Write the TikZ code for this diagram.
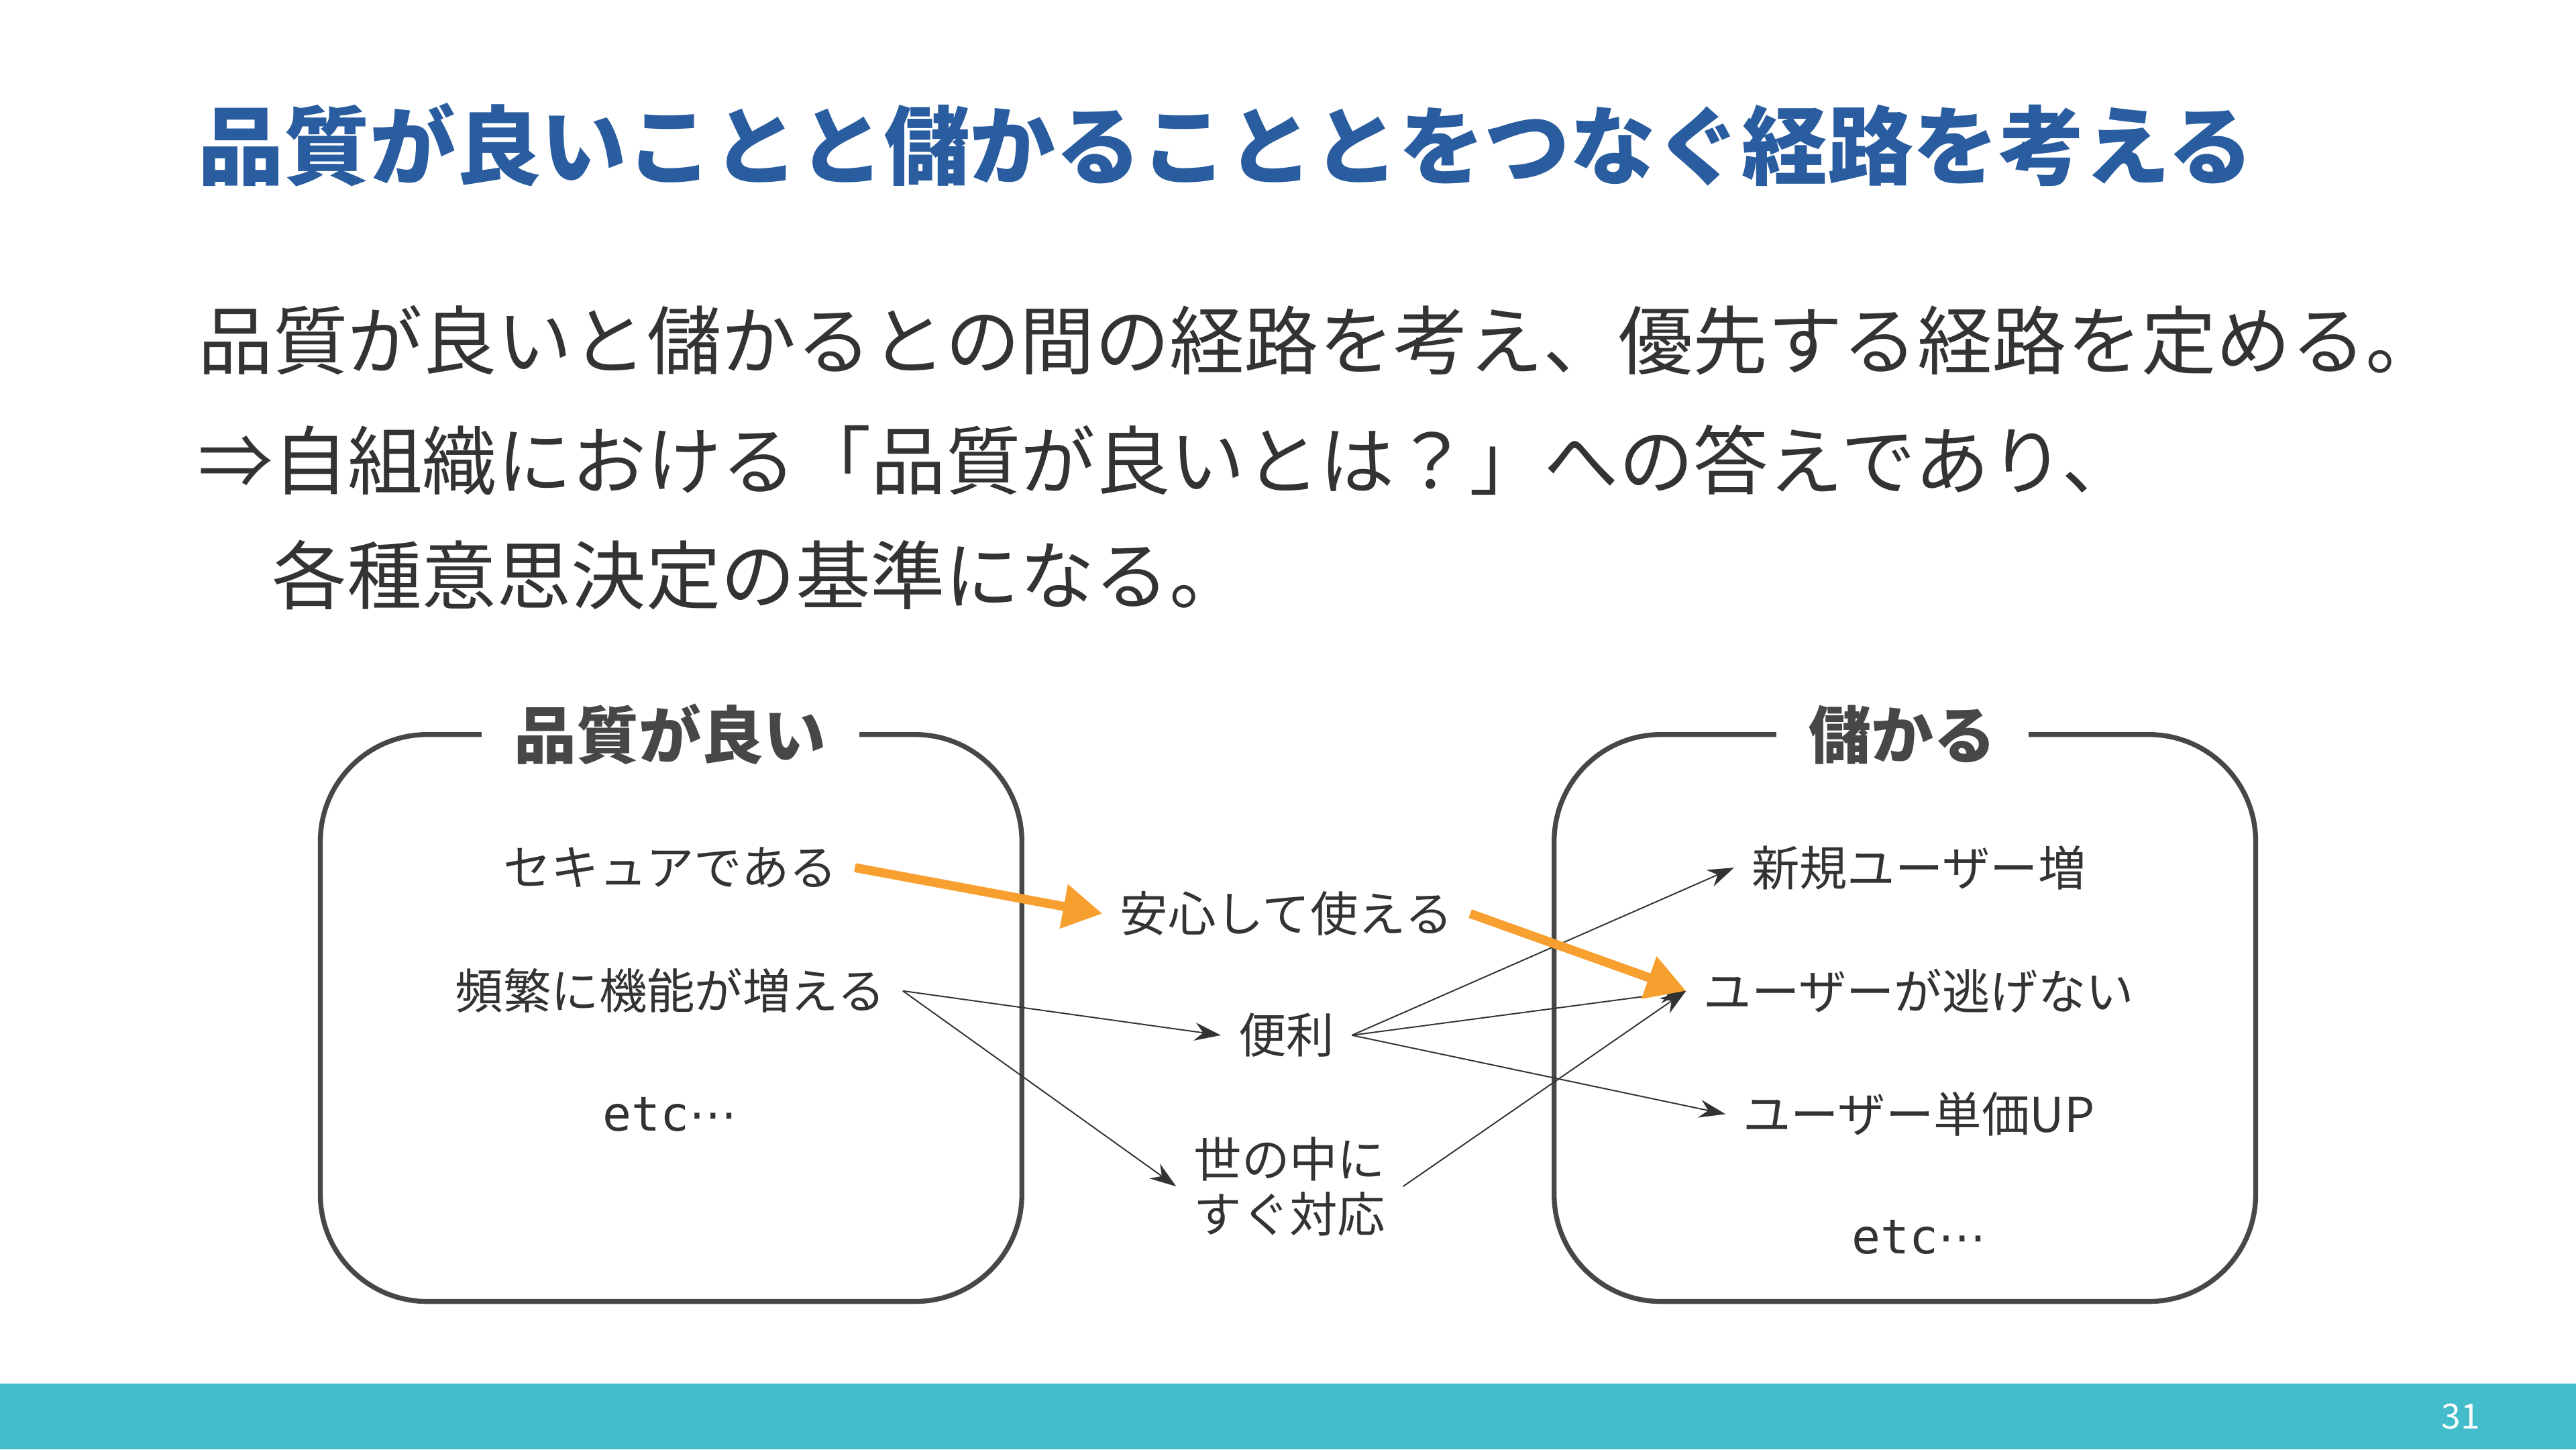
\documentclass[tikz,border=0pt]{standalone}
\usepackage{fontspec}
\setmainfont{Noto Sans CJK JP}
\newfontfamily\monof{DejaVu Sans Mono}
\newfontfamily\dvs{DejaVu Sans}
\usetikzlibrary{arrows.meta}
\definecolor{ttl}{HTML}{2A5D9F}
\definecolor{txt}{HTML}{333333}
\definecolor{org}{HTML}{F7A030}
\definecolor{bar}{HTML}{43BCCB}
\tikzset{
 box/.style={draw=txt!90,line width=0.3mm,rounded corners=6.5mm},
 hdr/.style={fill=white,inner xsep=2mm,font=\fontsize{10.8}{12}\selectfont\bfseries,text=txt!90},
 itm/.style={font=\fontsize{8.3}{10}\selectfont,text=txt,inner sep=1mm,align=center},
 thin/.style={draw=txt,line width=0.08mm,-{Stealth[length=1.6mm,width=1.1mm]}},
 oarr/.style={draw=org,line width=0.55mm,-{Triangle[length=2.4mm,width=2.6mm]}},
 body/.style={anchor=west,font=\fontsize{12.95}{14}\selectfont,text=txt,inner sep=0}
}
\begin{document}
\begin{tikzpicture}[x=0.1mm,y=-0.1mm]
\useasboundingbox (0,0) rectangle (1568,882);
\fill[bar] (0,842) rectangle (1568,882);
\node[text=white,font=\fontsize{6}{7}\selectfont] (pg) at (1498,862) {31};
\node[anchor=west,inner sep=0,text=ttl,font=\fontsize{14.85}{16}\selectfont\bfseries] (title) at (120,88) {品質が良いことと儲かることとをつなぐ経路を考える};
\node[body] (b1) at (120,207) {品質が良いと儲かるとの間の経路を考え、優先する経路を定める。};
\node[body] (b2) at (120,280) {⇒自組織における「品質が良いとは？」への答えであり、};
\node[body] (b3) at (165,350) {各種意思決定の基準になる。};
\draw[box] (195,447) rectangle (622,792);
\draw[box] (946,447) rectangle (1373,792);
\node[hdr] (h1) at (408,447) {品質が良い};
\node[hdr] (h2) at (1158,447) {儲かる};
\node[itm] (sec) at (408,528) {セキュアである};
\node[itm] (hin) at (408,603) {頻繁に機能が増える};
\node[itm,font=\fontsize{8.3}{10}\selectfont\monof] (e1) at (408,678) {etc{\dvs⋯}};
\node[itm] (an) at (783,556) {安心して使える};
\node[itm] (ben) at (783,630) {便利};
\node[itm,font=\fontsize{8.3}{9.5}\selectfont] (yo) at (785,722) {世の中に\\すぐ対応};
\node[itm] (shin) at (1168,528) {新規ユーザー増};
\node[itm] (nige) at (1168,603) {ユーザーが逃げない};
\node[itm] (tan) at (1168,678) {ユーザー単価UP};
\node[itm,font=\fontsize{8.3}{10}\selectfont\monof] (e2) at (1168,753) {etc{\dvs⋯}};
\draw[thin] (hin.east) -- (ben.west);
\draw[thin] (hin.east) -- (yo.west);
\draw[thin] (ben.east) -- (shin.west);
\draw[thin] (ben.east) -- (nige.west);
\draw[thin] (ben.east) -- (tan.west);
\draw[thin] (yo.east) -- (nige.west);
\draw[oarr] (sec.east) -- (an.west);
\draw[oarr] (an.east) -- (nige.west);
\end{tikzpicture}
\end{document}
